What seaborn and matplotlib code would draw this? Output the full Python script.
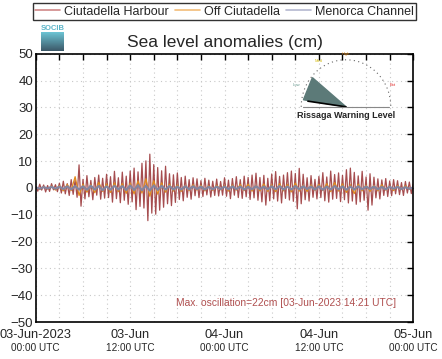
import numpy as np
import pandas as pd
import matplotlib
matplotlib.use("Agg")
import matplotlib.pyplot as plt
import seaborn as sns
from matplotlib.lines import Line2D
from matplotlib.patches import Polygon

# ── Data (cm), hours since 03-Jun-2023 00:00 UTC ──
harbour = [
    0.5, -1.2, 1.4, -0.8, 1.1, -1.5, 0.9, -1.3, 1.6, -0.7, 1.2, -1.4,
    1.8, -1.9, 2.5, -2.2, 1.6, -2.8, 3.1, -2.4, 2.9, -3.5, 8.6, -6.8,
    3.2, -4.1, 4.6, -3.3, 2.8, -4.4, 3.9, -2.7, 4.8, -4.2, 3.6, -3.8,
    5.1, -3.6, 4.2, -5.3, 6.2, -4.0, 3.8, -5.5, 5.9, -4.6, 4.4, -6.1,
    6.3, -5.2, 7.4, -8.1, 6.0, -6.9, 9.2, -7.5, 10.1, -12.2, 12.6, -9.4,
    8.7, -9.8, 7.6, -8.3, 6.4, -7.2, 8.1, -5.9, 5.3, -6.6, 4.9, -5.4,
    5.6, -4.3, 3.9, -4.8, 4.4, -3.5, 3.1, -4.2, 3.8, -2.9, 3.4, -3.6,
    2.7, -3.2, 3.6, -2.6, 2.9, -3.4, 2.5, -2.8, 3.3, -3.0, 2.4, -2.7,
    3.8, -3.1, 2.9, -4.0, 3.5, -2.7, 4.2, -3.6, 3.1, -3.9, 4.4, -3.3,
    3.9, -4.3, 4.8, -3.7, 5.5, -4.6, 3.9, -5.2, 4.7, -6.4, 3.6, -4.8,
    5.2, -4.1, 6.1, -4.9, 4.3, -5.6, 4.8, -3.9, 5.7, -4.5, 6.3, -5.0,
    5.4, -7.8, 7.3, -5.9, 5.1, -4.4, 3.8, -4.9, 4.6, -3.5, 3.2, -4.1,
    4.3, -3.6, 5.7, -4.8, 4.1, -5.3, 6.3, -4.2, 5.0, -3.9, 5.6, -5.1,
    4.7, -4.4, 6.8, -5.6, 7.4, -4.9, 5.8, -6.1, 4.5, -5.2, 6.2, -4.6,
    4.1, -8.3, 5.3, -6.4, 4.0, -3.7, 3.4, -4.1, 3.0, -2.8, 3.5, -3.2,
    2.6, -2.9, 3.1, -2.2, 2.7, -2.5, 2.0, -2.8, 2.4, -1.9, 2.2, -2.1,
    1.5,
]
off_ciutadella = [
    0.3, -0.6, 0.5, -0.4, 0.7, -0.8, 0.9, -1.1, 1.3, -1.0, 4.2, -2.8,
    1.4, -1.6, 1.2, -1.8, 2.1, -1.3, 1.5, -1.7, 1.9, -1.4, 1.6, -2.0,
    1.8, -2.2, 2.6, -1.9, 3.4, -3.1, 2.7, -2.3, 1.9, -1.6, 1.4, -1.2,
    1.1, -1.3, 0.9, -1.0, 1.2, -0.8, 1.0, -1.1, 0.8, -0.9, 1.0, -0.7,
    0.9, -1.2, 1.1, -0.8, 1.3, -1.0, 1.4, -1.2, 0.9, -1.1, 1.5, -1.3,
    1.2, -1.4, 1.6, -1.1, 1.3, -1.5, 1.8, -1.2, 1.0, -1.3, 1.1, -0.9,
    1.3, -1.0, 1.6, -1.4, 2.0, -1.2, 1.5, -1.7, 1.2, -2.1, 1.4, -1.1,
    1.0, -1.3, 0.9, -1.1, 1.2, -0.8, 0.7, -1.0, 0.9, -0.6, 0.8, -0.5,
    0.3,
]
menorca_channel = [
    0.2, -0.3, 0.3, -0.2, 0.4, -0.3, 0.5, -0.4, 0.6, -0.5, 0.7, -0.6,
    0.6, -0.7, 0.8, -0.6, 0.7, -0.8, 0.6, -0.7, 0.8, -0.6, 0.7, -0.8,
    0.9, -0.8, 1.0, -0.9, 0.8, -1.0, 0.9, -0.7, 0.8, -0.6, 0.7, -0.6,
    0.5, -0.6, 0.6, -0.5, 0.6, -0.4, 0.5, -0.6, 0.4, -0.5, 0.5, -0.4,
    0.5, -0.5, 0.6, -0.4, 0.5, -0.6, 0.4, -0.5, 0.6, -0.4, 0.5, -0.5,
    0.6, -0.5, 0.7, -0.6, 0.5, -0.6, 0.7, -0.5, 0.6, -0.4, 0.5, -0.6,
    0.6, -0.7, 0.5, -0.6, 0.7, -0.5, 0.6, -0.7, 0.5, -0.6, 0.6, -0.5,
    0.5, -0.4, 0.5, -0.5, 0.4, -0.5, 0.4, -0.3, 0.4, -0.4, 0.3, -0.3,
    0.2,
]
station_names = ["Ciutadella Harbour", "Off Ciutadella", "Menorca Channel"]
date_labels = ["03-Jun-2023", "03-Jun", "04-Jun", "04-Jun", "05-Jun"]
time_labels = ["00:00 UTC", "12:00 UTC", "00:00 UTC", "12:00 UTC", "00:00 UTC"]
label_hours = [0, 12, 24, 36, 48]
max_note = "Max. oscillation=22cm [03-Jun-2023 14:21 UTC]"

line_colors = ["#9c3a3c", "#e08a1e", "#8484a0"]
legend_colors = ["#d08888", "#f2bc78", "#b4b8d0"]

t_h = np.linspace(0, 48, len(harbour))
t_o = np.linspace(0, 48, len(off_ciutadella))
t_m = np.linspace(0, 48, len(menorca_channel))

sns.set_style("white")
plt.rcParams["font.family"] = ["Liberation Sans", "DejaVu Sans"]

fig = plt.figure(figsize=(4.42, 3.59), dpi=100)
ax = fig.add_axes([0.081, 0.103, 0.854, 0.747])

sns.lineplot(x=t_h, y=harbour, ax=ax, color=line_colors[0], lw=0.9, alpha=0.9)
sns.lineplot(x=t_o, y=off_ciutadella, ax=ax, color=line_colors[1], lw=0.9)
sns.lineplot(x=t_m, y=menorca_channel, ax=ax, color=line_colors[2], lw=1.6)

ax.set_xlim(0, 48)
ax.set_ylim(-50, 50)
ax.set_yticks(np.arange(-50, 51, 10))
ax.set_xticks(np.arange(0, 49, 3))
ax.set_xticklabels([])
ax.tick_params(axis="both", direction="in", length=4, width=1, color="black",
               top=True, right=True, labelsize=9.5, pad=2)
ax.tick_params(axis="y", labelright=False)
ax.grid(True, color="#c8c8c8", linestyle=(0, (1, 3)), linewidth=0.8)
for s in ax.spines.values():
    s.set_visible(True)
    s.set_color("black")
    s.set_linewidth(1.2)

xt = ax.get_xaxis_transform()
for h, d, tm in zip(label_hours, date_labels, time_labels):
    ax.text(h, -0.025, d, transform=xt, ha="center", va="top", fontsize=9.2)
    ax.text(h, -0.078, tm, transform=xt, ha="center", va="top", fontsize=7.2)

ax.text(0.955, 0.07, max_note, transform=ax.transAxes, ha="right",
        va="center", fontsize=7.4, color="#b05050")

ax.set_title("Sea level anomalies (cm)", fontsize=12.5, pad=5)

handles = [Line2D([], [], color=c, lw=1.2) for c in legend_colors]
leg = fig.legend(handles, station_names, loc="upper center",
                 bbox_to_anchor=(0.508, 0.998), ncol=3, fontsize=9,
                 frameon=True, fancybox=False, handlelength=2.0,
                 handletextpad=0.3, columnspacing=0.5, borderpad=0.2,
                 borderaxespad=0.2)
leg.get_frame().set_edgecolor("black")
leg.get_frame().set_linewidth(1.0)

# SOCIB logo
lax = fig.add_axes([41 / 442, 1 - 51 / 359, 23 / 442, 25 / 359])
grad = np.linspace(0, 1, 50).reshape(-1, 1)
cmap = matplotlib.colors.LinearSegmentedColormap.from_list("lg", ["#6cc4d4", "#3c5868"])
lax.imshow(grad, aspect="auto", cmap=cmap, extent=[0, 1, 0, 0.74], origin="upper")
lax.text(0.5, 0.88, "SOCIB", ha="center", va="center", fontsize=5.5,
         color="#5ab4c8", fontweight="bold")
lax.set_xlim(0, 1)
lax.set_ylim(0, 1)
lax.axis("off")

# Rissaga warning gauge
gax = fig.add_axes([290 / 442, 1 - 120 / 359, 112 / 442, 72 / 359])
gax.set_xlim(-1.25, 1.25)
gax.set_ylim(-0.28, 1.25)
gax.axis("off")
ang = np.linspace(np.pi, 0, 40)
gax.plot(np.cos(ang), np.sin(ang), ls=(0, (1, 3)), color="#666666", lw=0.8)
gax.add_patch(Polygon([[0, 0], [-0.75, 0.62], [-0.95, 0.15]], closed=True,
                      color="#5c7a78"))
gax.plot([0, -0.85], [0, 0.12], color="black", lw=1.2)
gax.plot([-0.95, 0.95], [0, 0], color="#888888", lw=0.8)
gax.text(-1.1, 0.45, "Low", fontsize=3, color="#6a9a90", ha="center")
gax.text(-0.6, 0.95, "Med", fontsize=3, color="#d8c020", ha="center")
gax.text(0.0, 1.1, "High", fontsize=3, color="#e08a1e", ha="center")
gax.text(1.05, 0.45, "Ext", fontsize=3, color="#e02020", ha="center")
gax.text(0.0, -0.18, "Rissaga Warning Level", fontsize=6.5, fontweight="bold",
         ha="center", va="center")

fig.savefig("out.png", dpi=100)
